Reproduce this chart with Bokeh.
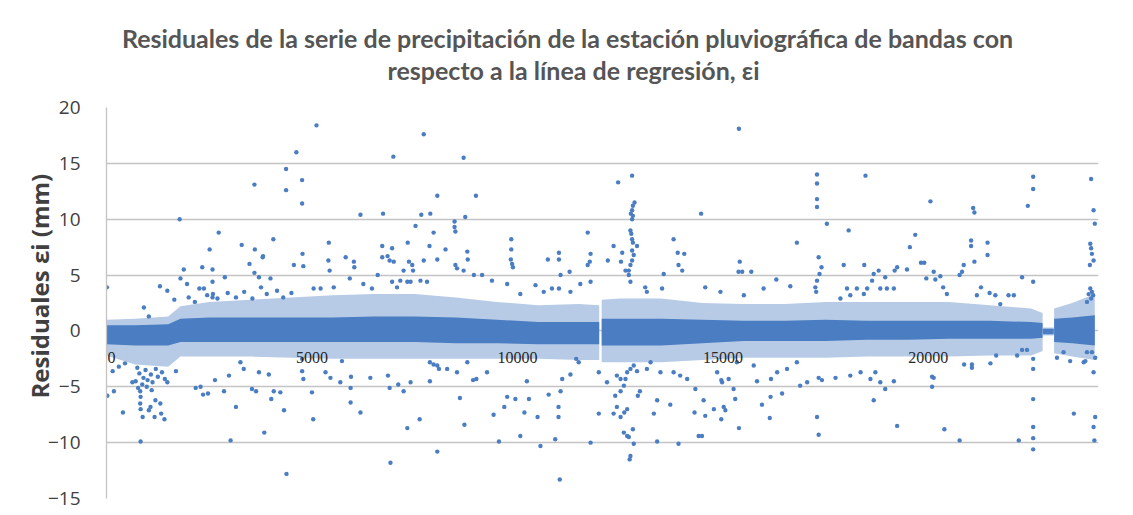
from bokeh.plotting import figure
from bokeh.models import Range1d, FixedTicker, Title, LabelSet, ColumnDataSource
from bokeh.layouts import column
from bokeh.core.properties import value
from bokeh.embed import file_html
from bokeh.resources import INLINE

# ---------------- data ----------------
title_line1 = "Residuales de la serie de precipitación de la estación pluviográfica de bandas con"
title_line2 = "respecto a la línea de regresión, εi"
y_title = "Residuales  εi (mm)"

y_ticks = [-15, -10, -5, 0, 5, 10, 15, 20]
x_ticks = [0, 5000, 10000, 15000, 20000]
x_tick_labels = ["0", "5000", "10000", "15000", "20000"]

# dense band of residuals (solid core and dotted halo envelopes), per segment
band_seg = [0] * 15 + [1] * 13 + [2] * 2 + [3] * 3
band_x = [0, 700, 1500, 1800, 2500, 3500, 4500, 5500, 6500, 7500, 8500, 9500, 10500, 11500, 11990,
          12050, 12500, 13500, 14500, 15500, 16500, 17500, 18500, 19500, 20500, 21500, 22500, 22780,
          22790, 23050,
          23060, 23500, 24050]
core_hi = [0.5, 0.5, 0.6, 1.1, 1.2, 1.2, 1.2, 1.2, 1.3, 1.3, 1.2, 1.0, 0.8, 0.8, 0.8,
           1.1, 1.1, 1.1, 1.0, 0.9, 0.9, 1.0, 0.9, 0.9, 0.9, 0.9, 0.8, 0.7,
           0.2, 0.2,
           1.1, 1.2, 1.4]
core_lo = [-1.2, -1.3, -1.3, -1.0, -1.0, -1.0, -1.0, -1.0, -1.0, -1.0, -1.1, -1.1, -1.2, -1.2, -1.2,
           -1.3, -1.3, -1.3, -1.1, -0.9, -0.9, -0.9, -0.8, -0.8, -0.7, -0.7, -0.7, -0.6,
           -0.3, -0.3,
           -1.0, -1.1, -1.3]
halo_hi = [1.0, 1.1, 1.3, 2.2, 2.6, 2.8, 3.0, 3.2, 3.3, 3.3, 3.0, 2.6, 2.3, 2.4, 2.3,
           2.8, 2.9, 2.9, 2.5, 2.4, 2.4, 2.6, 2.6, 2.6, 2.6, 2.3, 2.0, 1.6,
           0.3, 0.3,
           2.0, 2.5, 3.3]
halo_lo = [-2.2, -3.0, -3.2, -2.3, -2.3, -2.3, -2.4, -2.5, -2.5, -2.5, -2.5, -2.5, -2.5, -2.6, -2.6,
           -2.8, -2.8, -2.8, -2.6, -2.4, -2.4, -2.4, -2.3, -2.3, -2.3, -2.2, -2.2, -1.8,
           -0.4, -0.4,
           -2.0, -2.3, -2.6]

# scattered residuals outside the dense band (index, residual mm)
pts = [
    # 0 - 4700 upper
    (4620, 16.0), (4370, 14.5), (3600, 13.1), (4370, 12.6), (1780, 10.0), (2730, 8.8), (4060, 8.2),
    (2510, 7.3), (3290, 7.7), (3610, 7.3), (3810, 6.7), (3800, 6.6), (4560, 5.9), (1880, 5.5),
    (2330, 5.7), (2580, 5.5), (3480, 6.0), (3600, 5.2), (10, 3.9), (1300, 4.0), (1480, 3.6),
    (1800, 4.7), (1960, 4.2), (2260, 3.8), (2370, 3.8), (2580, 4.4), (2590, 3.3), (2580, 3.0),
    (2880, 4.8), (3710, 4.8), (3760, 3.9), (3990, 4.7), (910, 2.1), (1030, 1.3),
    (1650, 2.8), (2000, 3.0), (2150, 2.6), (2450, 3.2), (2700, 2.9), (2950, 3.4), (3150, 3.0),
    (3350, 3.5), (3550, 2.9), (3900, 3.3), (4150, 3.6), (4300, 3.0), (4500, 3.4),
    # 0 - 4700 lower
    (20, -5.8), (180, -5.4), (400, -7.3), (830, -9.9), (820, -5.4), (830, -5.9), (820, -6.5),
    (830, -7.0), (880, -7.7), (1030, -7.1), (1070, -6.8), (1170, -7.7), (1190, -6.2), (1310, -6.5),
    (1330, -7.4), (1410, -7.9), (1480, -4.6), (630, -4.6), (710, -4.5), (770, -5.1), (870, -4.8),
    (1690, -3.6), (2170, -5.1), (2290, -5.0), (2350, -5.7), (2470, -5.6), (2640, -4.4), (2860, -5.4),
    (2980, -4.0), (3150, -6.8), (3020, -9.8), (3640, -5.4), (3540, -5.2), (3840, -9.1), (4010, -6.1),
    (4070, -5.4), (4230, -5.5), (4320, -7.1), (4380, -12.8), (3950, -3.9), (3710, -3.7), (3260, -2.8),
    (3340, -3.4), (750, -3.3), (800, -3.8), (900, -4.2), (950, -3.5), (1000, -4.4), (1080, -3.9),
    (1120, -4.6), (1200, -3.4), (1250, -4.1), (1350, -3.7), (1420, -4.3), (980, -5.0), (1100, -5.3),
    (300, -3.2), (450, -2.9), (150, -3.6),
    # 4700 - 9600 upper
    (5110, 18.4), (7720, 17.6), (6980, 15.6), (8690, 15.5), (4760, 13.5), (4760, 11.4), (8050, 12.1),
    (8990, 12.1), (6180, 10.4), (6730, 10.5), (7660, 10.4), (7880, 10.5), (8730, 10.2), (8470, 9.8),
    (8470, 9.3), (8490, 8.9), (7520, 9.4), (7960, 8.8), (5410, 7.9), (7330, 7.9), (6710, 7.6),
    (6950, 7.4), (7860, 7.6), (8250, 7.3), (4770, 6.9), (8780, 7.1), (8790, 6.4), (5820, 6.6),
    (5400, 6.3), (5430, 5.4), (6020, 6.2), (6030, 5.7), (6710, 6.6), (6840, 6.7), (6890, 6.3),
    (6990, 6.2), (7360, 6.2), (7720, 6.3), (8050, 6.4), (7440, 5.9), (7460, 5.4), (7230, 5.4),
    (4790, 5.8), (6600, 5.0), (5920, 4.7), (8490, 5.9), (8530, 5.6), (8690, 5.4), (8940, 5.0),
    (9140, 5.0), (5210, 3.8), (5040, 3.8), (5530, 3.9), (6250, 4.2), (6460, 3.8), (6950, 4.4),
    (7070, 3.9), (7150, 4.5), (7320, 4.4), (7400, 4.4), (7640, 4.5), (7800, 4.4), (9380, 4.5),
    # 4700 - 9600 lower
    (4760, -2.5), (5000, -5.5), (5030, -7.9), (5330, -3.7), (5730, -2.7), (5950, -4.1), (5940, -5.1),
    (5940, -6.4), (6180, -7.3), (6420, -4.2), (6850, -4.0), (6890, -5.1), (7100, -4.8), (7230, -5.4),
    (7400, -4.6), (7320, -8.7), (6910, -11.8), (7620, -7.9), (7870, -4.5), (7870, -2.8), (7960, -3.0),
    (8050, -3.1), (8090, -3.4), (8050, -10.8), (8600, -6.0), (8710, -8.4), (8920, -4.4), (9000, -4.3),
    (9420, -7.5), (9550, -9.9), (8290, -3.4), (8530, -3.7), (8780, -2.8), (9260, -3.7), (5690, -4.6),
    (5450, -4.2), (4760, -3.6), (4790, -4.3),
    # 9600 - 14450 upper
    (12450, 13.3), (12790, 13.9), (12850, 11.5), (12810, 11.2), (12790, 10.8), (12760, 10.5),
    (12810, 10.3), (12790, 10.0), (11710, 8.8), (12750, 9.0), (12770, 8.7), (12790, 8.2), (12810, 7.9),
    (12790, 7.2), (12830, 6.8), (12790, 6.3), (12750, 5.9), (12710, 5.4), (12710, 5.0), (12750, 4.4),
    (13800, 8.2), (9850, 8.2), (9850, 7.3), (9840, 6.4), (9870, 6.0), (9890, 5.7), (10740, 6.4),
    (11010, 7.0), (11010, 6.4), (11780, 6.9), (11760, 6.2), (11710, 5.9), (12200, 6.3), (12340, 7.6),
    (12550, 7.0), (12520, 6.2), (12630, 5.4), (12910, 7.6), (13900, 7.0), (13920, 5.9), (14060, 6.9),
    (14010, 5.4), (13560, 5.1), (11270, 5.3), (11050, 5.0), (11530, 4.2), (11780, 4.4), (9750, 4.2),
    (10070, 3.3), (10440, 4.1), (10640, 3.5), (10840, 3.8), (11010, 3.8), (11290, 3.5), (13110, 3.9),
    (13150, 3.5), (13520, 3.8),
    # 9600 - 14450 lower
    (11030, -13.3), (12730, -11.5), (12750, -11.2), (12670, -9.4), (12710, -9.5), (12590, -9.1),
    (12810, -8.8), (12830, -10.1), (12510, -7.7), (12600, -7.3), (12670, -7.0), (12420, -6.8),
    (12380, -5.8), (12510, -5.4), (12590, -4.9), (12750, -3.4), (12830, -3.1), (12910, -3.6),
    (12670, -3.7), (12630, -4.3), (12510, -4.3), (12420, -4.0), (9680, -6.8), (9750, -5.9),
    (9950, -6.1), (10070, -9.4), (10170, -7.3), (10230, -4.5), (10280, -6.1), (10490, -7.7),
    (10560, -10.3), (10760, -5.7), (10920, -9.7), (11000, -6.8), (11000, -7.7), (11050, -5.4),
    (11090, -4.3), (11290, -3.9), (11430, -2.5), (11490, -2.8), (11780, -10.0), (11980, -7.4),
    (11980, -3.7), (12180, -4.6), (12340, -7.4), (12930, -5.8), (12980, -5.4), (13320, -7.4),
    (13400, -9.9), (13400, -6.2), (13720, -6.6), (13920, -10.1), (14330, -5.2), (14410, -9.4),
    (14310, -7.3), (13800, -3.7), (13960, -4.0), (14130, -4.3), (13150, -3.4), (13480, -3.7),
    (13240, -2.8),
    # 14450 - 19300 upper
    (15390, 18.1), (14470, 10.5), (17290, 14.0), (17290, 13.2), (17290, 11.8), (17290, 11.1),
    (18470, 13.9), (17530, 9.6), (18060, 9.0), (16800, 7.9), (17330, 6.6), (17400, 5.7), (17350, 5.1),
    (17290, 4.5), (17250, 3.9), (17270, 3.5), (17940, 5.9), (18440, 5.9), (15410, 6.2), (15380, 5.3),
    (15470, 5.3), (15690, 5.3), (16300, 4.6), (16640, 4.0), (15990, 3.8), (15510, 3.2), (14940, 3.5),
    (14570, 3.9), (18670, 5.1), (18790, 5.4), (18950, 4.8), (19180, 5.4), (19240, 5.7), (18830, 3.8),
    (18990, 3.8), (19160, 3.8), (18630, 4.5), (18510, 3.8), (18430, 3.3), (18020, 3.8), (18260, 3.8),
    (18100, 3.2), (17860, 2.9),
    # 14450 - 19300 lower
    (15390, -8.7), (16140, -7.8), (17290, -7.7), (17330, -9.3), (19240, -8.5), (18670, -6.2),
    (14490, -9.4), (14530, -6.2), (14570, -7.6), (14780, -7.0), (14960, -7.9), (15020, -6.8),
    (15060, -7.1), (15260, -5.2), (14960, -4.4), (14980, -4.6), (15140, -4.3), (14860, -3.7),
    (15300, -6.1), (15950, -6.6), (16160, -5.9), (16170, -4.3), (16440, -5.6), (15830, -4.5),
    (16880, -4.9), (17050, -4.6), (17330, -4.2), (17410, -4.4), (17740, -4.2), (18100, -4.0),
    (18350, -3.7), (18590, -4.3), (18710, -3.7), (18830, -4.6), (18950, -5.2), (19160, -4.5),
    (15340, -2.8), (15750, -3.1), (16320, -3.7), (16560, -3.4), (16800, -2.8),
    # 19300 - end upper
    (22550, 13.8), (22550, 12.7), (22420, 11.2), (23960, 13.6), (24020, 10.8), (24050, 9.6),
    (20050, 11.6), (21090, 11.0), (21120, 10.6), (19680, 8.6), (19550, 7.5), (21040, 8.1),
    (21040, 7.6), (21440, 7.9), (21440, 6.8), (23940, 7.8), (23960, 7.4), (23980, 6.9), (24020, 6.3),
    (23930, 5.9), (21120, 6.2), (20860, 5.9), (19820, 6.1), (19900, 6.1), (19480, 5.5), (20130, 5.3),
    (20290, 4.9), (20170, 4.6), (19950, 4.7), (20360, 3.9), (20450, 3.3), (20760, 5.0), (20820, 5.3),
    (22280, 4.8), (22550, 4.4), (21280, 3.9), (21490, 3.4), (21630, 3.2), (21180, 3.2), (23940, 3.8),
    (23980, 3.5), (23900, 3.3), (24010, 3.2), (23960, 2.9), (23860, 2.6), (21950, 3.2), (22080, 3.2),
    (21750, 2.4),
    # 19300 - end lower
    (22550, -3.4), (22550, -6.1), (22550, -8.6), (22550, -9.6), (22550, -10.6), (24020, -3.7),
    (24060, -7.7), (24020, -8.6), (24040, -9.8), (23540, -7.4), (22200, -9.8), (20760, -9.8),
    (20390, -8.8), (20090, -5.0), (20090, -4.1), (20130, -4.2), (21060, -3.3), (21060, -3.0),
    (20870, -3.0), (21510, -2.9), (21650, -2.2), (22160, -2.2), (22280, -1.7), (22400, -1.7),
    (22550, -2.5), (23130, -2.4), (23290, -1.9), (23450, -2.7), (23780, -2.8), (23820, -2.7),
    (24060, -2.4), (23980, -1.9), (23860, -1.9),
]
pt_x = [p_[0] for p_ in pts]
pt_y = [p_[1] for p_ in pts]

# ---------------- styling ----------------
BLUE = "#4A7DC2"
TXT = "#404040"
TITLE_C = "#555555"
W, H_TITLE, H_PLOT = 1133, 95, 420
FRAME_L, FRAME_R = 106, 1098   # the column layout aligns both frames to these edges

# ---------------- title strip ----------------
tf = figure(width=W, height=H_TITLE, output_backend="svg", toolbar_location=None,
            x_range=Range1d(FRAME_L, FRAME_R), y_range=Range1d(0, H_TITLE),
            x_axis_location=None, y_axis_location=None,
            min_border_left=FRAME_L, min_border_right=W - FRAME_R,
            min_border_top=0, min_border_bottom=0)
tf.outline_line_color = None
tf.grid.visible = False
tf.text(x=[567, 573], y=[H_TITLE - 37, H_TITLE - 69], text=[title_line1, title_line2],
        text_align="center", text_baseline="middle", text_font=value("Lato"),
        text_font_size="25px", text_font_style="bold", text_color=TITLE_C)

# ---------------- main plot ----------------
p = figure(width=W, height=H_PLOT, output_backend="svg", toolbar_location=None,
           x_range=Range1d(0, 24140), y_range=Range1d(-15, 20),
           x_axis_location=None,
           min_border_left=FRAME_L, min_border_right=W - FRAME_R,
           min_border_top=12, min_border_bottom=17)
p.outline_line_color = None
p.background_fill_color = "white"
p.border_fill_color = "white"

p.xgrid.visible = False
p.ygrid.ticker = FixedTicker(ticks=y_ticks)
p.ygrid.grid_line_color = "#C4C4C4"
p.ygrid.grid_line_width = 1.3

ax = p.yaxis[0]
ax.ticker = FixedTicker(ticks=y_ticks)
ax.axis_line_color = "#C4C4C4"
ax.axis_line_width = 1.3
ax.major_tick_line_color = None
ax.minor_tick_line_color = None
ax.major_label_standoff = 20
ax.major_label_text_font = "Open Sans"
ax.major_label_text_font_size = "19px"
ax.major_label_text_color = TXT

# value-axis title, placed like the original (starts 100 px above the bottom)
p.add_layout(Title(text=y_title, align="left", offset=100, standoff=-22,
                   text_font="Open Sans", text_font_size="24px",
                   text_font_style="bold", text_color=TXT), "left")

segs = sorted(set(band_seg))
for s in segs:
    idx = [i for i, v in enumerate(band_seg) if v == s]
    xs = [band_x[i] for i in idx]
    p.varea(x=xs, y1=[halo_lo[i] for i in idx], y2=[halo_hi[i] for i in idx],
            fill_color=BLUE, fill_alpha=0.4)
    p.varea(x=xs, y1=[core_lo[i] for i in idx], y2=[core_hi[i] for i in idx],
            fill_color=BLUE, fill_alpha=1.0)

p.scatter(x=pt_x, y=pt_y, size=4.4, fill_color=BLUE, line_color=None)

# x tick labels sit on the zero line (category axis crosses at 0)
x_off = [5 if t == 0 else 0 for t in x_ticks]
lab_src = ColumnDataSource(dict(x=x_ticks, y=[0] * len(x_ticks), text=x_tick_labels, xo=x_off))
p.add_layout(LabelSet(x="x", y="y", text="text", source=lab_src, x_offset="xo", y_offset=-27,
                      text_align="center", text_baseline="middle",
                      text_font="Open Sans", text_font_size="16px", text_color="#262626"))

layout = column(tf, p, spacing=0)
open("out.html", "w").write(file_html(layout, INLINE))
